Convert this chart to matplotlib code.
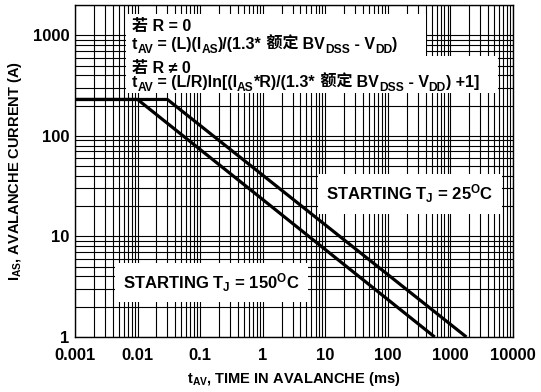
import matplotlib
matplotlib.use('Agg')
import numpy as np
from matplotlib import pyplot as plt
from matplotlib.ticker import LogLocator, NullFormatter, FixedLocator, FixedFormatter
from matplotlib.transforms import offset_copy
from matplotlib.patches import Rectangle

plt.rcParams['font.family'] = ['Liberation Sans', 'Noto Sans CJK SC', 'DejaVu Sans']
plt.rcParams['font.weight'] = 'bold'
plt.rcParams['axes.labelweight'] = 'bold'
plt.rcParams['mathtext.fontset'] = 'custom'
plt.rcParams['mathtext.rm'] = 'Liberation Sans:bold'
plt.rcParams['mathtext.bf'] = 'Liberation Sans:bold'
plt.rcParams['mathtext.default'] = 'rm'

# curve data
t_150 = [0.001, 0.01, 560]     # ms
i_150 = [230, 230, 1]          # A
t_25 = [0.001, 0.03, 1800]
i_25 = [230, 230, 1]

xticks = [0.001, 0.01, 0.1, 1, 10, 100, 1000, 10000]
xticklabels = ['0.001', '0.01', '0.1', '1', '10', '100', '1000', '10000']
yticks = [1, 10, 100, 1000]
yticklabels = ['1', '10', '100', '1000']

fig = plt.figure(figsize=(5.41, 3.92), dpi=100)
ax = fig.add_axes([75 / 541, 1 - 337 / 392, 438 / 541, 332 / 392])
ax.set_xscale('log')
ax.set_yscale('log')
ax.set_xlim(0.001, 10000)
ax.set_ylim(1, 2000)

ax.plot(t_150, i_150, color='black', lw=2.3, zorder=3, solid_capstyle='butt')
ax.plot(t_25, i_25, color='black', lw=2.3, zorder=3, solid_capstyle='butt')

ax.xaxis.set_major_locator(FixedLocator(xticks))
ax.xaxis.set_major_formatter(FixedFormatter(xticklabels))
ax.yaxis.set_major_locator(FixedLocator(yticks))
ax.yaxis.set_major_formatter(FixedFormatter(yticklabels))
for a in (ax.xaxis, ax.yaxis):
    a.set_minor_locator(LogLocator(base=10, subs=np.arange(2, 10), numticks=100))
    a.set_minor_formatter(NullFormatter())
ax.set_axisbelow(True)
ax.grid(True, which='both', color='black', lw=0.8)
ax.tick_params(which='both', length=0)
ax.tick_params(axis='x', labelsize=12, pad=8)
ax.tick_params(axis='y', labelsize=12, pad=4)
for lab in ax.get_xticklabels() + ax.get_yticklabels():
    lab.set_fontweight('bold')
for s in ax.spines.values():
    s.set_linewidth(1.0)

ax.set_xlabel(r'$\mathregular{t_{AV}}$, TIME IN AVALANCHE (ms)', fontsize=10.5, labelpad=5)
ax.set_ylabel(r'$\mathregular{I_{AS}}$, AVALANCHE CURRENT (A)', fontsize=10.5, labelpad=6)

# curve labels
bb = dict(facecolor='white', edgecolor='none', pad=6)
ax.text(0.573, 0.413, r'STARTING T$_\mathregular{J}$ = 25$^\mathregular{O}$C', transform=ax.transAxes,
        fontsize=12, va='baseline', bbox=bb, zorder=4)
ax.text(0.110, 0.145, r'STARTING T$_\mathregular{J}$ = 150$^\mathregular{O}$C', transform=ax.transAxes,
        fontsize=12, va='baseline', bbox=bb, zorder=4)

# formula block: white backgrounds
ax.add_patch(Rectangle((126 / 541, 1 - 56 / 392), 300 / 541, 42 / 392,
                       transform=fig.transFigure, facecolor='white', edgecolor='none', zorder=2.5))
ax.add_patch(Rectangle((126 / 541, 1 - 93 / 392), 372 / 541, 37 / 392,
                       transform=fig.transFigure, facecolor='white', edgecolor='none', zorder=2.5))


def rich_line(x, y, parts, size=10):
    r = fig.canvas.get_renderer()
    dx = 0.0
    for s, kind in parts:
        fs = size * 0.75 if kind else size
        dy = {'': 0, 'sub': -0.22 * size, 'sup': 0.45 * size}[kind]
        tr = offset_copy(ax.transAxes, fig=fig, x=dx, y=dy, units='points')
        t = ax.text(x, y, s, transform=tr, fontsize=fs, va='baseline', ha='left', zorder=5)
        dx += t.get_window_extent(r).width * 72 / fig.dpi


lines = [
    [('若 R = 0', '')],
    [('t', ''), ('AV', 'sub'), (' = (L)(I', ''), ('AS', 'sub'), (')/(1.3*', ''), (' 额定', ''),
     (' BV', ''), ('DSS', 'sub'), (' - V', ''), ('DD', 'sub'), (')', '')],
    [('若 R ≠ 0', '')],
    [('t', ''), ('AV', 'sub'), (' = (L/R)ln[(I', ''), ('AS', 'sub'), ('*R)/(1.3*', ''), (' 额定', ''),
     (' BV', ''), ('DSS', 'sub'), (' - V', ''), ('DD', 'sub'), (') +1]', '')],
]
baselines = [0.923, 0.867, 0.796, 0.753]
for parts, yb in zip(lines, baselines):
    rich_line(0.130, yb, parts, size=11.5)

fig.savefig('out.png', dpi=100)
